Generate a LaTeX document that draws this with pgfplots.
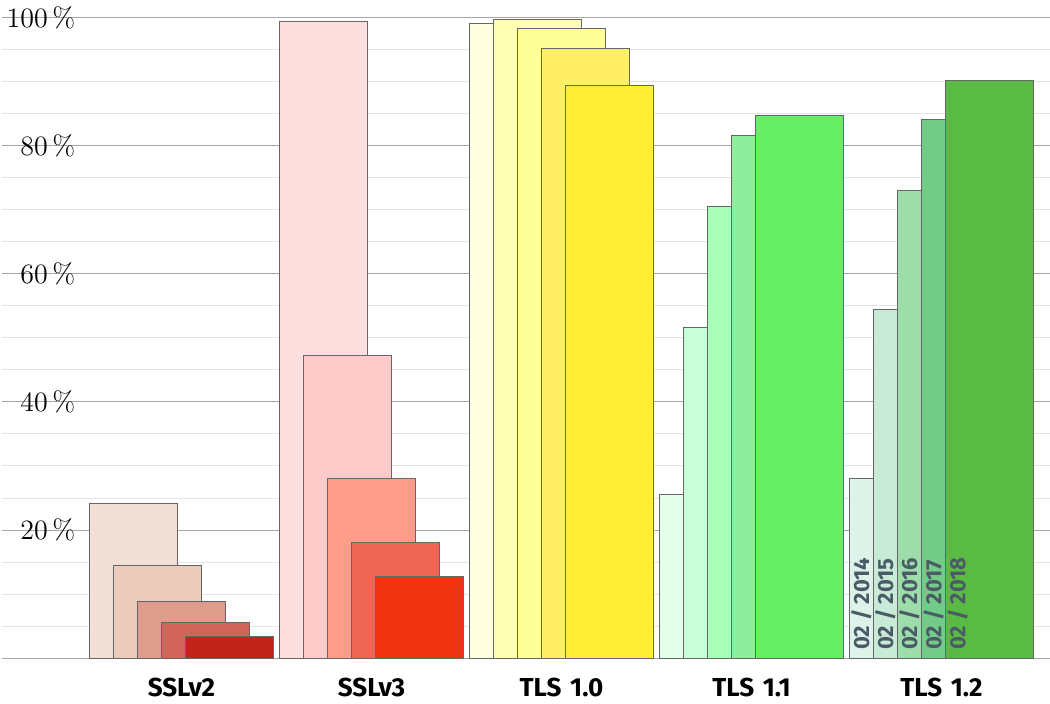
\documentclass[border=0pt]{standalone}
\usepackage{pgfplots}
\pgfplotsset{compat=1.18}
\usepackage{fontspec}
\setsansfont{Fira Sans}
\definecolor{a1}{HTML}{F2DFD5}\definecolor{a2}{HTML}{ECCBBC}\definecolor{a3}{HTML}{DE9C8C}\definecolor{a4}{HTML}{D06458}\definecolor{a5}{HTML}{C0241A}
\definecolor{b1}{HTML}{FFDEDF}\definecolor{b2}{HTML}{FFCACA}\definecolor{b3}{HTML}{FF9D8A}\definecolor{b4}{HTML}{F06656}\definecolor{b5}{HTML}{F03412}
\definecolor{c1}{HTML}{FFFFE0}\definecolor{c2}{HTML}{FFFFB4}\definecolor{c3}{HTML}{FFFF99}\definecolor{c4}{HTML}{FFEE66}\definecolor{c5}{HTML}{FFEE33}
\definecolor{d1}{HTML}{E4FFEA}\definecolor{d2}{HTML}{C8FFD8}\definecolor{d3}{HTML}{A8FFB8}\definecolor{d4}{HTML}{8EEE9E}\definecolor{d5}{HTML}{66EE66}
\definecolor{e1}{HTML}{DDF2E8}\definecolor{e2}{HTML}{C8EBD8}\definecolor{e3}{HTML}{9CDDAA}\definecolor{e4}{HTML}{72CC88}\definecolor{e5}{HTML}{5ABB44}
\definecolor{yrtxt}{HTML}{4A5A66}
\tikzset{yr/.style={rotate=90, anchor=west, inner sep=0pt, text=yrtxt, font=\sffamily\bfseries\fontsize{11}{13}\selectfont}}
\begin{document}
\begin{tikzpicture}
\begin{axis}[scale only axis, width=523.5pt, height=320pt,
 xmin=0, xmax=1047, ymin=0, ymax=100,
 axis line style={draw=none}, tick style={draw=none},
 ybar, bar shift=0pt, bar width=88,
 ytick={0,20,40,60,80,100}, yticklabels={,20\,\%,40\,\%,60\,\%,80\,\%,100\,\%},
 minor ytick={5,10,15,25,30,35,45,50,55,65,70,75,85,90,95},
 ymajorgrids, yminorgrids,
 major grid style={gray!70, line width=0.5pt},
 minor grid style={gray!20, line width=0.5pt},
 yticklabel style={anchor=east, xshift=40pt, font=\fontsize{14}{16}\selectfont},
 xtick={179,369,559,749,939}, xticklabels={SSLv2,SSLv3,TLS\,\,1.0,TLS\,\,1.1,TLS\,\,1.2},
 xticklabel style={font=\sffamily\bfseries\fontsize{13}{15}\selectfont, yshift=-2pt},
 every axis plot/.append style={draw=gray!80!black, line width=0.4pt},
 clip=false]
\addplot[fill=a1] coordinates {(131,24.2)};
\addplot[fill=a2] coordinates {(155,14.4)};
\addplot[fill=a3] coordinates {(179,8.9)};
\addplot[fill=a4] coordinates {(203,5.5)};
\addplot[fill=a5] coordinates {(227,3.4)};
\addplot[fill=b1] coordinates {(321,99.4)};
\addplot[fill=b2] coordinates {(345,47.3)};
\addplot[fill=b3] coordinates {(369,28.1)};
\addplot[fill=b4] coordinates {(393,18.0)};
\addplot[fill=b5] coordinates {(417,12.7)};
\addplot[fill=c1] coordinates {(511,99.2)};
\addplot[fill=c2] coordinates {(535,99.8)};
\addplot[fill=c3] coordinates {(559,98.4)};
\addplot[fill=c4] coordinates {(583,95.2)};
\addplot[fill=c5] coordinates {(607,89.5)};
\addplot[fill=d1] coordinates {(701,25.6)};
\addplot[fill=d2] coordinates {(725,51.6)};
\addplot[fill=d3] coordinates {(749,70.6)};
\addplot[fill=d4] coordinates {(773,81.6)};
\addplot[fill=d5] coordinates {(797,84.8)};
\addplot[fill=e1] coordinates {(891,28.1)};
\addplot[fill=e2] coordinates {(915,54.5)};
\addplot[fill=e3] coordinates {(939,73.0)};
\addplot[fill=e4] coordinates {(963,84.2)};
\addplot[fill=e5] coordinates {(987,90.2)};
\node[yr] at (axis cs:859,1.2) {02 / 2014};
\node[yr] at (axis cs:883,1.2) {02 / 2015};
\node[yr] at (axis cs:907,1.2) {02 / 2016};
\node[yr] at (axis cs:931,1.2) {02 / 2017};
\node[yr] at (axis cs:955,1.2) {02 / 2018};
\end{axis}
\end{tikzpicture}
\end{document}
